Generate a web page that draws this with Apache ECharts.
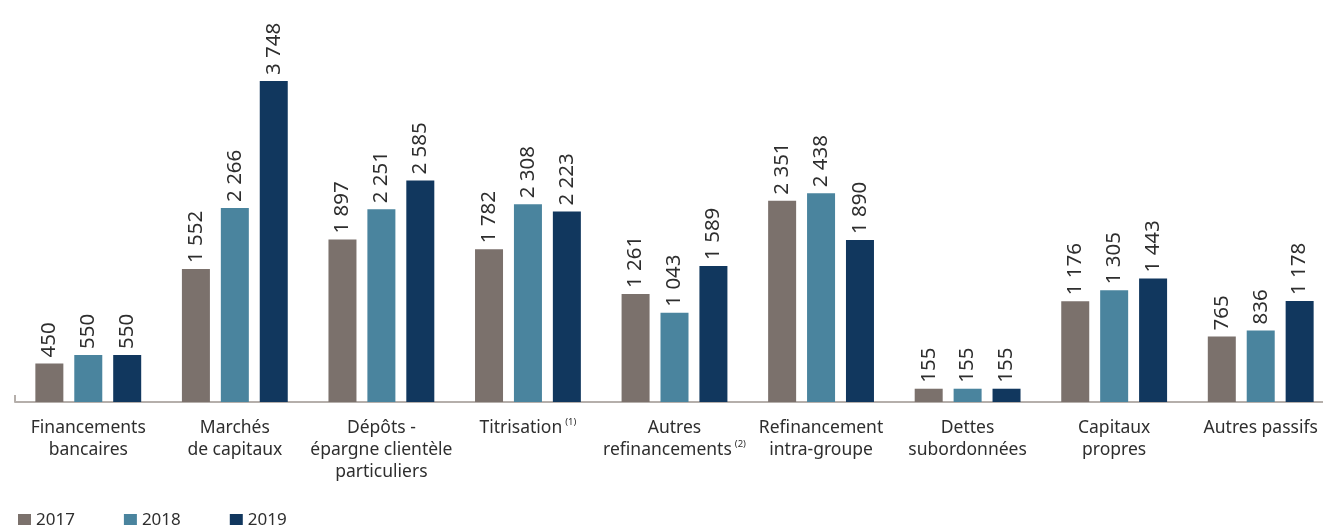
<!DOCTYPE html>
<html><head><meta charset="utf-8">
<script src="https://cdn.jsdelivr.net/npm/echarts@6/dist/echarts.min.js"></script>
<style>html,body{margin:0;padding:0;background:#fff;overflow:hidden;width:1323px;height:525px;}#c{width:1345px;height:525px;}</style>
</head><body><div id="c"></div>
<script>
const categories = ["Financements\nbancaires", "Marchés\nde capitaux", "Dépôts -\népargne clientèle\nparticuliers", "Titrisation{s|(1)}", "Autres\nrefinancements{s|(2)}", "Refinancement\nintra-groupe", "Dettes\nsubordonnées", "Capitaux\npropres", "Autres passifs"];
const years = ["2017", "2018", "2019"];
const values2017 = [450, 1552, 1897, 1782, 1261, 2351, 155, 1176, 765];
const values2018 = [550, 2266, 2251, 2308, 1043, 2438, 155, 1305, 836];
const values2019 = [550, 3748, 2585, 2223, 1589, 1890, 155, 1443, 1178];
const colors = ["#7b716c", "#4a849e", "#11375e"];

const FONT = "Noto Sans";
const fmt = v => String(v).replace(/\B(?=(\d{3})+(?!\d))/g, " ");
const chart = echarts.init(document.getElementById('c'), null, {renderer: 'canvas'});
const mk = (name, data, i) => ({
  name, type: 'bar', data, barWidth: 28, barGap: '39%',
  itemStyle: {color: colors[i]},
  label: {show: true, position: 'top', rotate: 90, align: 'left', verticalAlign: 'middle', distance: 6,
    color: '#2e2e2e', fontFamily: FONT, fontSize: 20.5, formatter: p => fmt(p.value)}
});
chart.setOption({
  animation: false,
  textStyle: {fontFamily: FONT},
  grid: {left: 15, top: 59.4, bottom: 123, width: 1319, containLabel: false},
  legend: {left: 13, top: 507, itemWidth: 13, itemHeight: 13, itemGap: 49, icon: 'rect',
    textStyle: {fontFamily: FONT, fontSize: 17, color: '#2e2e2e'}, data: years},
  xAxis: {type: 'category', data: categories, boundaryGap: true,
    axisLine: {lineStyle: {color: '#b5afab', width: 2}},
    axisTick: {show: true, inside: true, length: 7, interval: (idx) => idx === 0, lineStyle: {color: '#b5afab', width: 2}},
    axisLabel: {interval: 0, margin: 15, fontFamily: FONT, fontSize: 17.5, color: '#2e2e2e', lineHeight: 22,
      rich: {s: {fontSize: 9.5, verticalAlign: 'top', padding: [0, 0, 10, 3], color: '#2e2e2e', fontFamily: FONT}}}},
  yAxis: {type: 'value', min: 0, max: 4000, show: false, splitLine: {show: false}},
  series: [mk(years[0], values2017, 0), mk(years[1], values2018, 1), mk(years[2], values2019, 2)]
});
</script></body></html>
